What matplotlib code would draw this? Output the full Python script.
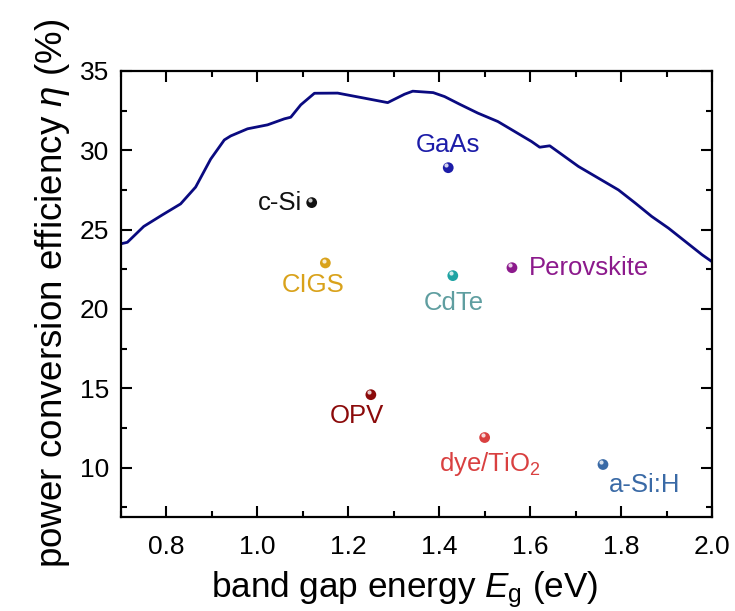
import numpy as np
import matplotlib.pyplot as plt
from matplotlib.ticker import MultipleLocator

plt.rcParams['font.family'] = ['Liberation Sans', 'DejaVu Sans']
plt.rcParams['mathtext.fontset'] = 'custom'
plt.rcParams['mathtext.it'] = 'Liberation Sans:italic'
plt.rcParams['mathtext.rm'] = 'Liberation Sans'

# Shockley-Queisser limit
sq_eg = [0.70, 0.715, 0.751, 0.792, 0.832, 0.865, 0.898, 0.928, 0.942, 0.979,
         1.023, 1.060, 1.074, 1.096, 1.126, 1.177, 1.236, 1.287, 1.324, 1.342,
         1.387, 1.412, 1.445, 1.485, 1.529, 1.566, 1.603, 1.621, 1.643, 1.676,
         1.706, 1.750, 1.794, 1.831, 1.867, 1.904, 1.941, 1.978, 2.00]
sq_eta = [24.1, 24.2, 25.2, 25.93, 26.62, 27.68, 29.44, 30.65, 30.9, 31.35,
          31.6, 31.98, 32.08, 32.86, 33.59, 33.6, 33.28, 33.0, 33.53, 33.72,
          33.63, 33.38, 32.9, 32.34, 31.81, 31.18, 30.55, 30.19, 30.28, 29.6,
          28.98, 28.24, 27.5, 26.67, 25.83, 25.09, 24.25, 23.41, 22.97]

# record cells
names = ['c-Si', 'GaAs', 'CIGS', 'CdTe', 'Perovskite', 'OPV', 'dye/TiO$_2$', 'a-Si:H']
eg = [1.12, 1.42, 1.15, 1.43, 1.56, 1.25, 1.50, 1.76]
eta = [26.7, 28.9, 22.9, 22.1, 22.6, 14.6, 11.9, 10.2]
dot_colors = ['#111111', '#1c1ca8', '#d9a21b', '#1fa3a3', '#8c1a8c', '#8b0a0a', '#d94040', '#3a6aa6']
text_colors = ['#111111', '#1c1ca8', '#d9a21b', '#5f9ea0', '#8c1a8c', '#8b0a0a', '#d94040', '#3a6aa6']
# label offsets in points and alignment
offsets = [(-7, 0), (0, 8), (-9, -7), (1, -11), (12, 0), (-10, -7), (4, -9), (4, -6)]
aligns = [('right', 'center'), ('center', 'bottom'), ('center', 'top'), ('center', 'top'),
          ('left', 'center'), ('center', 'top'), ('center', 'top'), ('left', 'top')]

fig = plt.figure(figsize=(7.35, 6.11), dpi=100)
ax = fig.add_axes([0.164, 0.154, 0.805, 0.73])

ax.plot(sq_eg, sq_eta, color='#0a0a80', lw=2.0)

ax.scatter(eg, eta, s=60, c=dot_colors, zorder=3, linewidths=0)
ax.scatter(np.array(eg) - 0.004, np.array(eta) + 0.15, s=9, c='white', alpha=0.8,
           zorder=4, linewidths=0)

for n, x, y, tc, off, al in zip(names, eg, eta, text_colors, offsets, aligns):
    ax.annotate(n, (x, y), xytext=off, textcoords='offset points',
                ha=al[0], va=al[1], color=tc, fontsize=18.5)

ax.set_xlim(0.7, 2.0)
ax.set_ylim(6.9, 35)
ax.xaxis.set_major_locator(MultipleLocator(0.2))
ax.xaxis.set_minor_locator(MultipleLocator(0.1))
ax.yaxis.set_minor_locator(MultipleLocator(2.5))
ax.set_yticks([10, 15, 20, 25, 30, 35])
ax.tick_params(which='both', direction='in', top=True, right=True, width=1.5)
ax.tick_params(which='major', length=8, labelsize=19)
ax.tick_params(axis='x', which='major', pad=13)
ax.tick_params(axis='y', which='major', pad=8)
ax.tick_params(which='minor', length=4)
for sp in ax.spines.values():
    sp.set_linewidth(1.6)

ax.set_xlabel('band gap energy $E_\\mathrm{g}$ (eV)', fontsize=25.3)
ax.xaxis.set_label_coords(0.48, -0.118)
ax.set_ylabel('power conversion efficiency $\\eta$ (%)', fontsize=26.5, labelpad=6)

fig.savefig('out.png', dpi=100)
